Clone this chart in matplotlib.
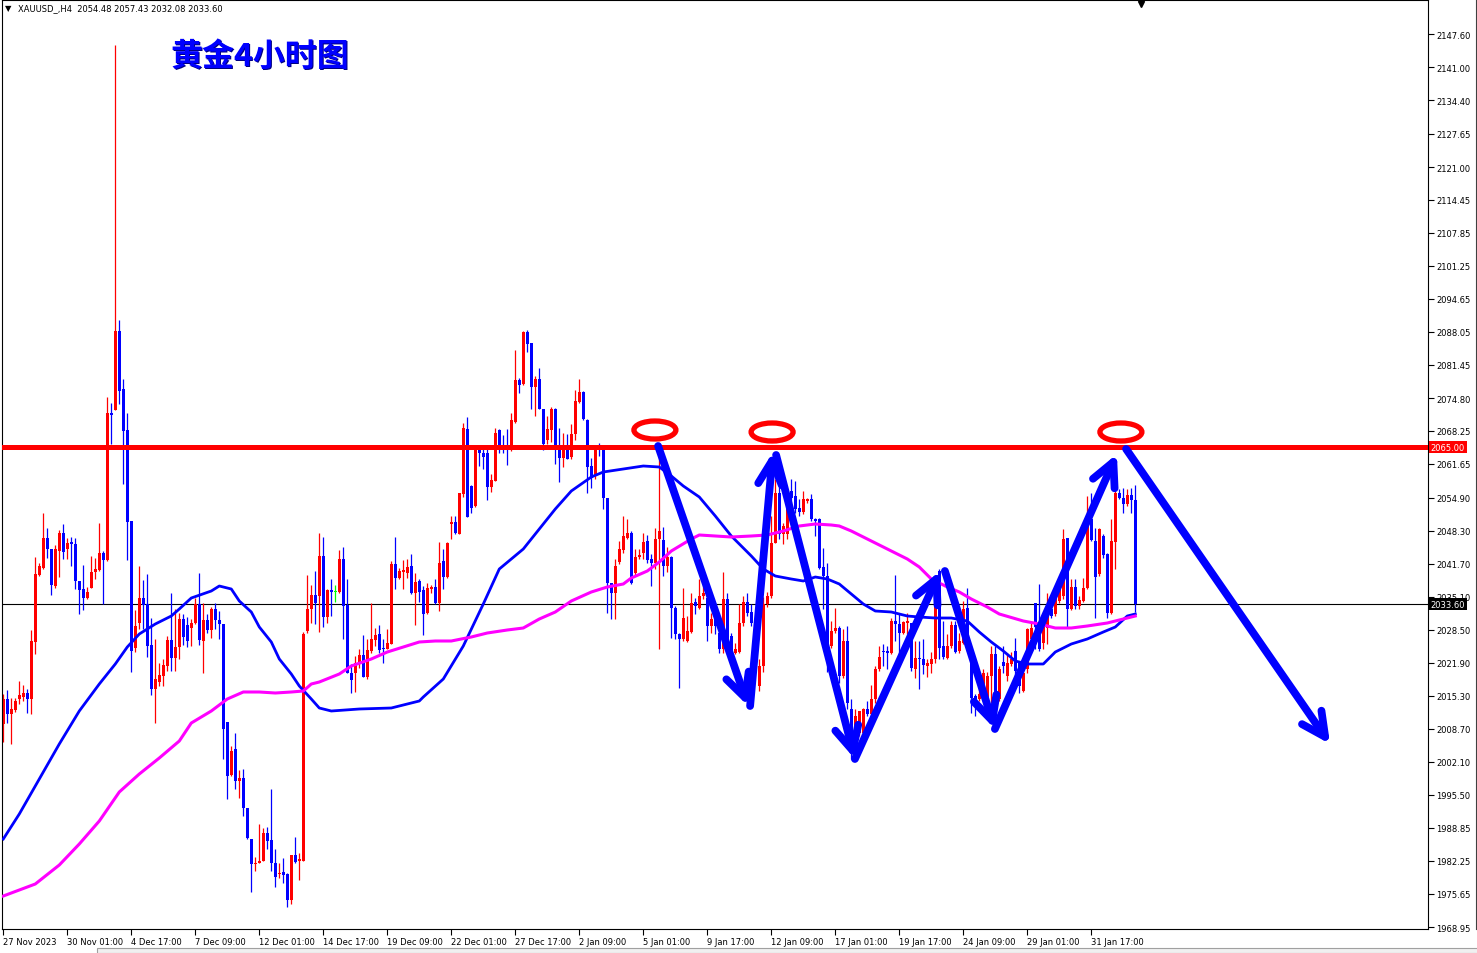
import numpy as np
import matplotlib
matplotlib.use("Agg")
import matplotlib.pyplot as plt
from matplotlib.patches import Ellipse, Rectangle
from matplotlib.lines import Line2D
from matplotlib import transforms

# XAUUSD H4 bars, 27 Nov 2023 -> 2 Feb 2024
opens = [
    2009.6, 2014.6, 2011.6, 2012.5, 2014.6, 2015.1, 2015.9, 2014.6, 2026.1, 2039.4,
    2040.9, 2046.9, 2044.7, 2037.3, 2044.3, 2047.8, 2044.6, 2046.0, 2045.7, 2038.3,
    2036.6, 2034.8, 2036.9, 2040.1, 2040.5, 2043.8, 2042.5, 2071.8, 2072.4, 2088.3,
    2076.6, 2068.4, 2050.3, 2024.9, 2029.9, 2034.8, 2033.7, 2025.4, 2016.7, 2018.1,
    2019.3, 2021.3, 2026.4, 2022.8, 2025.1, 2030.6, 2029.5, 2028.9, 2029.9, 2033.7,
    2026.3, 2030.4, 2028.5, 2032.6, 2030.4, 2029.7, 2010.1, 1999.4, 2004.6, 1998.3,
    1998.9, 1992.9, 1986.7, 1981.6, 1981.9, 1982.3, 1987.9, 1986.4, 1981.9, 1979.6,
    1980.1, 1979.6, 1974.5, 1983.4, 1982.3, 1982.3, 2028.3, 2032.6, 2035.4, 2035.3,
    2043.3, 2031.1, 2036.4, 2036.1, 2036.1, 2042.6, 2033.4, 2019.8, 2019.8, 2021.8,
    2023.4, 2019.1, 2024.3, 2026.5, 2027.6, 2024.9, 2024.7, 2025.6, 2041.6, 2038.9,
    2040.1, 2039.9, 2041.3, 2035.8, 2038.3, 2036.4, 2031.9, 2036.6, 2037.1, 2033.9,
    2042.3, 2039.1, 2049.6, 2050.1, 2047.6, 2055.6, 2068.6, 2057.3, 2053.3, 2064.7,
    2063.9, 2063.9, 2057.1, 2058.3, 2068.4, 2064.9, 2064.9, 2064.7, 2070.1, 2078.4,
    2077.6, 2088.1, 2085.8, 2077.1, 2078.7, 2072.7, 2066.4, 2068.4, 2072.7, 2064.7,
    2062.9, 2064.9, 2063.1, 2067.6, 2074.1, 2076.1, 2070.5, 2061.3, 2059.4, 2065.1,
    2064.4, 2054.9, 2037.9, 2035.9, 2042.1, 2044.5, 2046.9, 2047.9, 2039.9, 2043.1,
    2043.9, 2046.3, 2042.7, 2041.9, 2046.6, 2046.4, 2041.3, 2043.0, 2032.9, 2027.6,
    2026.6, 2026.3, 2028.1, 2034.1, 2032.9, 2035.3, 2034.9, 2029.3, 2030.6, 2027.9,
    2024.6, 2034.7, 2027.3, 2023.9, 2024.1, 2029.8, 2034.1, 2032.1, 2029.8, 2017.3,
    2021.3, 2033.6, 2035.3, 2045.9, 2055.9, 2047.6, 2047.6, 2056.3, 2055.3, 2052.9,
    2052.1, 2054.3, 2054.7, 2050.6, 2050.6, 2041.0, 2039.3, 2025.3, 2028.3, 2028.9,
    2019.3, 2026.3, 2012.6, 2007.3, 2007.9, 2007.9, 2012.7, 2011.6, 2014.6, 2020.6,
    2024.3, 2024.3, 2023.9, 2030.3, 2029.6, 2027.9, 2029.8, 2029.8, 2020.6, 2022.9,
    2022.7, 2021.3, 2021.6, 2022.7, 2040.3, 2025.3, 2022.9, 2025.3, 2029.4, 2024.3,
    2025.9, 2032.9, 2024.6, 2015.3, 2014.6, 2014.9, 2013.9, 2019.3, 2023.6, 2014.6,
    2022.0, 2019.3, 2021.6, 2024.3, 2021.9, 2016.3, 2020.6, 2026.6, 2033.9, 2029.3,
    2025.9, 2028.9, 2032.6, 2031.6, 2034.3, 2035.3, 2046.8, 2032.7, 2037.1, 2033.3,
    2034.3, 2036.9, 2050.6, 2046.3, 2039.6, 2047.3, 2043.6, 2031.9, 2046.1, 2055.9,
    2054.9, 2053.6, 2055.4, 2054.48,
]
highs = [
    2015.6, 2016.5, 2014.9, 2014.9, 2018.3, 2017.4, 2016.7, 2028.4, 2043.1, 2041.9,
    2051.9, 2048.9, 2044.7, 2045.4, 2048.4, 2049.6, 2046.9, 2047.1, 2046.9, 2038.3,
    2041.4, 2037.1, 2043.3, 2042.9, 2049.8, 2044.3, 2075.1, 2073.8, 2145.4, 2090.4,
    2078.7, 2071.8, 2050.3, 2032.4, 2041.3, 2038.4, 2039.6, 2030.9, 2026.7, 2021.9,
    2022.7, 2027.3, 2035.9, 2032.6, 2031.9, 2031.6, 2031.1, 2030.6, 2034.9, 2039.9,
    2033.9, 2031.7, 2033.1, 2033.9, 2032.3, 2029.7, 2010.1, 2005.3, 2007.9, 2000.5,
    2000.7, 1992.9, 1986.7, 1983.1, 1989.7, 1988.9, 1989.1, 1996.7, 1984.7, 1981.8,
    1982.9, 1979.9, 1983.4, 1987.1, 1983.9, 2028.1, 2039.4, 2037.4, 2040.3, 2047.9,
    2047.1, 2036.6, 2038.7, 2037.4, 2044.4, 2045.1, 2038.6, 2021.6, 2023.3, 2024.7,
    2027.4, 2026.6, 2033.8, 2028.9, 2029.4, 2026.6, 2028.6, 2042.3, 2047.1, 2040.9,
    2042.5, 2042.6, 2043.6, 2039.8, 2038.6, 2037.3, 2037.9, 2037.5, 2038.6, 2046.1,
    2044.7, 2046.1, 2051.3, 2051.3, 2055.9, 2069.9, 2071.0, 2057.4, 2064.7, 2065.3,
    2064.6, 2065.3, 2059.6, 2068.9, 2068.7, 2067.4, 2068.6, 2071.9, 2084.4, 2078.9,
    2088.3, 2088.4, 2085.9, 2079.3, 2080.9, 2072.7, 2071.3, 2073.1, 2072.9, 2068.9,
    2067.9, 2067.6, 2069.7, 2076.5, 2078.7, 2076.3, 2070.6, 2062.9, 2064.9, 2065.9,
    2064.6, 2054.9, 2037.9, 2042.6, 2046.3, 2051.3, 2050.7, 2048.3, 2044.6, 2044.6,
    2047.9, 2047.4, 2043.6, 2048.9, 2064.6, 2049.1, 2045.0, 2043.2, 2033.3, 2027.9,
    2036.9, 2031.3, 2035.9, 2034.9, 2038.6, 2038.6, 2035.9, 2031.9, 2033.3, 2029.3,
    2040.1, 2035.9, 2027.9, 2025.9, 2033.6, 2035.3, 2035.9, 2033.6, 2030.4, 2022.6,
    2035.0, 2036.0, 2051.3, 2058.6, 2057.0, 2049.9, 2055.3, 2058.6, 2058.3, 2054.6,
    2056.3, 2054.9, 2055.6, 2050.9, 2050.9, 2044.9, 2041.9, 2030.3, 2032.9, 2029.3,
    2028.6, 2029.3, 2014.6, 2012.6, 2012.3, 2012.9, 2014.3, 2017.4, 2021.3, 2025.3,
    2025.6, 2025.3, 2030.9, 2039.4, 2031.9, 2030.3, 2031.9, 2029.9, 2026.3, 2026.3,
    2026.6, 2022.6, 2024.1, 2035.6, 2040.6, 2030.3, 2027.7, 2030.3, 2030.3, 2027.9,
    2034.3, 2036.9, 2024.9, 2015.6, 2017.3, 2020.6, 2020.0, 2025.3, 2025.3, 2021.3,
    2025.3, 2023.9, 2024.1, 2026.9, 2022.3, 2020.6, 2028.9, 2029.9, 2033.9, 2037.6,
    2029.6, 2035.9, 2034.3, 2035.3, 2037.9, 2048.6, 2046.9, 2038.6, 2038.6, 2035.3,
    2038.9, 2055.3, 2055.9, 2048.9, 2048.9, 2047.6, 2043.9, 2050.7, 2058.3, 2056.6,
    2056.9, 2056.6, 2056.9, 2057.43,
]
lows = [
    2006.0, 2009.9, 2005.6, 2012.1, 2013.6, 2014.3, 2011.9, 2011.6, 2023.6, 2039.3,
    2040.6, 2042.9, 2035.4, 2036.9, 2039.1, 2042.6, 2042.6, 2041.3, 2036.6, 2031.6,
    2032.4, 2034.6, 2036.8, 2038.6, 2040.3, 2033.7, 2042.3, 2065.6, 2072.4, 2073.6,
    2057.6, 2042.5, 2020.1, 2024.1, 2028.6, 2028.6, 2023.1, 2015.4, 2009.8, 2017.3,
    2017.3, 2020.3, 2020.3, 2020.3, 2022.6, 2025.4, 2025.1, 2025.3, 2029.6, 2025.4,
    2019.9, 2027.9, 2026.8, 2028.6, 2026.6, 2002.6, 1994.6, 1999.3, 1996.6, 1994.9,
    1991.3, 1986.7, 1976.1, 1980.3, 1981.9, 1982.3, 1984.6, 1980.3, 1977.1, 1978.9,
    1977.9, 1973.1, 1973.6, 1981.9, 1978.5, 1982.3, 2027.9, 2029.9, 2029.6, 2028.1,
    2029.1, 2029.9, 2031.3, 2034.1, 2035.8, 2026.7, 2019.8, 2015.8, 2016.1, 2020.9,
    2019.1, 2018.6, 2023.9, 2025.3, 2023.8, 2021.8, 2024.6, 2025.6, 2036.7, 2038.6,
    2036.7, 2038.9, 2035.6, 2029.5, 2034.1, 2027.4, 2031.6, 2035.9, 2033.7, 2032.3,
    2036.7, 2038.9, 2046.7, 2047.6, 2047.6, 2055.1, 2051.1, 2051.9, 2053.1, 2061.3,
    2060.6, 2054.5, 2056.1, 2058.3, 2063.8, 2063.9, 2061.4, 2064.3, 2069.9, 2075.8,
    2077.5, 2084.1, 2072.7, 2071.3, 2072.6, 2064.5, 2065.6, 2066.1, 2061.7, 2058.1,
    2061.1, 2062.6, 2062.6, 2066.5, 2073.9, 2070.4, 2055.9, 2056.9, 2058.7, 2063.3,
    2052.7, 2031.9, 2030.7, 2030.6, 2041.6, 2043.9, 2046.6, 2037.6, 2039.3, 2042.6,
    2042.6, 2041.9, 2037.3, 2040.6, 2024.6, 2039.3, 2040.0, 2026.9, 2026.6, 2016.9,
    2026.3, 2026.1, 2027.9, 2031.6, 2032.6, 2034.6, 2026.3, 2027.9, 2027.6, 2023.9,
    2023.9, 2026.3, 2022.6, 2023.6, 2023.9, 2029.3, 2031.3, 2029.3, 2022.6, 2016.3,
    2020.0, 2033.0, 2034.9, 2045.8, 2046.6, 2045.6, 2046.6, 2051.3, 2051.9, 2051.3,
    2051.6, 2053.9, 2050.3, 2047.3, 2040.6, 2032.6, 2020.0, 2024.9, 2027.9, 2017.9,
    2018.9, 2012.6, 2002.6, 2005.9, 2007.3, 2007.6, 2011.3, 2011.3, 2013.9, 2020.3,
    2021.3, 2020.6, 2023.6, 2026.3, 2023.6, 2027.6, 2027.6, 2020.3, 2018.9, 2016.6,
    2019.6, 2019.1, 2019.9, 2021.8, 2022.6, 2022.6, 2022.7, 2024.9, 2023.9, 2023.9,
    2025.6, 2024.3, 2011.9, 2011.3, 2014.3, 2014.6, 2013.5, 2013.9, 2010.9, 2014.3,
    2019.9, 2018.3, 2021.3, 2017.9, 2015.9, 2016.1, 2019.9, 2025.9, 2024.6, 2024.3,
    2024.6, 2025.6, 2030.9, 2031.3, 2033.9, 2034.6, 2028.9, 2032.5, 2032.6, 2032.6,
    2034.1, 2036.6, 2046.3, 2030.9, 2039.3, 2042.9, 2030.9, 2031.6, 2040.6, 2054.7,
    2051.9, 2053.3, 2051.9, 2032.08,
]
closes = [
    2014.6, 2011.6, 2012.6, 2014.3, 2015.4, 2015.9, 2014.7, 2026.3, 2039.6, 2041.3,
    2046.9, 2044.6, 2037.4, 2044.6, 2047.8, 2044.1, 2045.9, 2045.7, 2038.3, 2036.5,
    2034.8, 2036.1, 2040.1, 2040.6, 2043.8, 2042.5, 2071.8, 2071.4, 2088.3, 2076.3,
    2068.3, 2050.1, 2024.3, 2029.3, 2034.8, 2033.4, 2025.3, 2016.7, 2018.6, 2019.4,
    2021.4, 2026.5, 2022.8, 2025.1, 2030.6, 2027.1, 2026.3, 2029.8, 2033.7, 2026.5,
    2030.4, 2028.4, 2032.6, 2030.4, 2029.7, 2008.6, 1999.3, 2004.3, 1998.3, 1998.9,
    1992.9, 1986.9, 1981.6, 1981.9, 1982.3, 1987.9, 1986.3, 1981.9, 1979.1, 1979.9,
    1979.4, 1974.5, 1983.4, 1982.1, 1982.6, 2027.6, 2032.7, 2035.4, 2033.9, 2043.3,
    2031.1, 2036.5, 2036.1, 2036.1, 2042.6, 2033.3, 2019.8, 2018.5, 2021.9, 2023.4,
    2019.1, 2024.5, 2026.6, 2027.4, 2024.5, 2024.6, 2025.8, 2041.7, 2038.9, 2040.3,
    2040.4, 2041.1, 2035.8, 2038.1, 2036.1, 2031.6, 2036.9, 2037.1, 2033.9, 2041.9,
    2039.1, 2045.9, 2050.1, 2047.8, 2055.8, 2068.8, 2051.1, 2052.9, 2064.7, 2063.9,
    2063.1, 2057.1, 2058.4, 2067.9, 2064.6, 2064.5, 2064.5, 2070.4, 2078.4, 2077.5,
    2088.1, 2085.6, 2077.1, 2078.7, 2072.7, 2065.6, 2068.6, 2072.7, 2064.7, 2062.9,
    2065.1, 2062.7, 2067.7, 2074.3, 2076.1, 2070.6, 2061.1, 2058.9, 2064.6, 2064.4,
    2054.9, 2037.9, 2035.9, 2041.3, 2044.6, 2047.3, 2047.9, 2037.9, 2043.1, 2043.4,
    2046.1, 2042.5, 2041.9, 2046.7, 2048.3, 2041.3, 2043.0, 2032.9, 2027.6, 2026.6,
    2030.9, 2028.3, 2033.9, 2033.3, 2035.3, 2035.9, 2029.3, 2030.6, 2029.3, 2024.6,
    2034.7, 2026.6, 2023.9, 2024.7, 2029.8, 2034.1, 2031.9, 2029.8, 2024.6, 2021.3,
    2033.6, 2035.3, 2045.9, 2055.9, 2047.6, 2049.3, 2053.3, 2054.9, 2052.6, 2052.1,
    2054.6, 2054.7, 2050.6, 2050.3, 2040.9, 2039.3, 2023.3, 2028.3, 2028.9, 2019.3,
    2026.3, 2013.9, 2007.3, 2011.3, 2012.3, 2012.7, 2011.6, 2014.6, 2020.6, 2023.1,
    2024.0, 2023.9, 2030.3, 2029.6, 2027.9, 2030.1, 2030.2, 2020.9, 2022.9, 2022.6,
    2021.4, 2021.8, 2022.7, 2034.6, 2024.9, 2023.1, 2025.3, 2029.4, 2024.1, 2026.3,
    2032.7, 2024.6, 2014.9, 2013.6, 2015.6, 2019.9, 2019.3, 2023.6, 2012.9, 2020.7,
    2021.3, 2021.9, 2022.6, 2020.3, 2017.3, 2019.9, 2028.6, 2028.9, 2029.1, 2024.6,
    2029.3, 2031.3, 2031.3, 2034.9, 2036.6, 2046.7, 2032.6, 2037.1, 2033.3, 2034.4,
    2036.9, 2049.9, 2046.4, 2039.1, 2048.6, 2043.4, 2031.8, 2046.3, 2055.8, 2054.9,
    2053.6, 2055.5, 2054.5, 2033.60,
]

date_labels = ["27 Nov 2023", "30 Nov 01:00", "4 Dec 17:00", "7 Dec 09:00", "12 Dec 01:00",
               "14 Dec 17:00", "19 Dec 09:00", "22 Dec 01:00", "27 Dec 17:00", "2 Jan 09:00",
               "5 Jan 01:00", "9 Jan 17:00", "12 Jan 09:00", "17 Jan 01:00", "19 Jan 17:00",
               "24 Jan 09:00", "29 Jan 01:00", "31 Jan 17:00"]
price_ticks = [2147.60, 2141.00, 2134.40, 2127.65, 2121.00, 2114.45, 2107.85, 2101.25,
               2094.65, 2088.05, 2081.45, 2074.80, 2068.25, 2061.65, 2054.90, 2048.30,
               2041.70, 2035.10, 2028.50, 2021.90, 2015.30, 2008.70, 2002.10, 1995.50,
               1988.85, 1982.25, 1975.65, 1968.95]

# the two moving averages, sampled off the chart
ma_blue_bars = [0, 4, 9, 14, 19, 24, 28, 31, 34, 38, 42, 44, 47, 52, 54, 57, 59, 62, 64, 67,
                69, 72, 74, 77, 79, 82, 89, 97, 104, 105, 110, 115, 120, 124, 127, 130, 134,
                138, 142, 147, 150, 155, 160, 164, 167, 170, 174, 178, 182, 187, 190, 193,
                197, 200, 203, 206, 209, 212, 215, 218, 222, 226, 229, 233, 237, 241, 244,
                247, 250, 253, 256, 260, 263, 267, 271, 275, 278, 281, 283]
ma_blue = [1986.6, 1991.6, 1998.6, 2005.6, 2012.2, 2017.6, 2021.6, 2025.0, 2027.6, 2029.6,
           2031.2, 2032.6, 2034.8, 2036.2, 2037.2, 2036.6, 2034.2, 2032.0, 2029.0, 2026.0,
           2022.6, 2019.6, 2017.2, 2014.6, 2012.8, 2012.2, 2012.6, 2012.8, 2014.2, 2015.0,
           2018.6, 2025.2, 2033.6, 2040.6, 2042.6, 2044.6, 2048.6, 2052.6, 2056.2, 2059.0,
           2060.0, 2060.6, 2061.2, 2061.0, 2059.2, 2057.2, 2055.0, 2051.2, 2047.2, 2043.2,
           2040.6, 2039.2, 2038.6, 2038.2, 2039.0, 2038.6, 2037.6, 2035.6, 2033.6, 2032.2,
           2032.0, 2031.2, 2031.0, 2030.8, 2030.8, 2030.2, 2028.0, 2026.0, 2024.2, 2022.2,
           2021.6, 2021.6, 2024.0, 2025.6, 2026.6, 2028.0, 2029.0, 2031.2, 2031.6]
ma_pink_bars = [0, 8, 14, 19, 24, 29, 34, 39, 44, 47, 52, 56, 60, 64, 68, 72, 75, 77, 79, 84,
                87, 92, 96, 100, 104, 108, 112, 117, 121, 126, 130, 134, 138, 142, 147, 151,
                155, 157, 161, 164, 167, 172, 174, 178, 182, 187, 191, 195, 199, 203, 207,
                209, 212, 215, 221, 226, 229, 232, 236, 239, 242, 246, 249, 255, 259, 263,
                267, 271, 276, 280, 283]
ma_pink = [1975.2, 1977.6, 1981.4, 1985.6, 1990.2, 1996.0, 1999.6, 2002.8, 2006.2, 2009.8,
           2012.2, 2014.6, 2016.0, 2016.0, 2015.8, 2016.0, 2016.2, 2017.6, 2018.0, 2019.6,
           2021.2, 2022.6, 2024.0, 2025.0, 2026.0, 2026.2, 2026.2, 2027.0, 2027.8, 2028.4,
           2028.8, 2030.6, 2032.0, 2034.2, 2036.0, 2037.0, 2037.6, 2038.8, 2040.2, 2042.0,
           2044.2, 2046.6, 2047.4, 2047.2, 2047.0, 2047.2, 2047.4, 2048.2, 2049.2, 2049.6,
           2049.4, 2049.2, 2048.2, 2047.0, 2044.6, 2042.6, 2041.0, 2038.6, 2037.0, 2036.0,
           2034.6, 2033.0, 2031.6, 2030.2, 2029.6, 2028.8, 2028.8, 2029.2, 2029.8, 2030.6,
           2031.2]

resistance = 2065.00
last_price = 2033.60

# hand drawn swing arrows (bar index, price): start -> tip
swing_arrows = [((163.7, 2065.2), (186.2, 2013.2)),
                ((186.7, 2013.2), (192.4, 2064.0)),
                ((193.2, 2063.4), (212.9, 2002.6)),
                ((212.9, 2002.6), (234.2, 2040.2)),
                ((235.4, 2040.2), (247.9, 2008.6)),
                ((247.9, 2008.6), (278.4, 2063.6)),
                ((280.7, 2064.6), (331.7, 2005.6))]
# red circles over the three tops (center bar, center price)
top_marks = [(162.9, 2068.4), (192.2, 2068.0), (279.4, 2068.0)]

RED = "#ff0000"
BLUE = "#0000ff"
PINK = "#ff00ff"

W, H = 1477, 954
fig = plt.figure(figsize=(W / 100, H / 100), dpi=100)
ax = fig.add_axes([2 / W, 24 / H, 1426 / W, 929 / H])
ax.set_xlim(-0.325, 356.175)
ax.set_ylim(1968.6, 2154.4)

o = np.array(opens)
h = np.array(highs)
l = np.array(lows)
c = np.array(closes)
idx = np.arange(len(o))
cols = np.where(c > o, RED, np.where(c < o, BLUE, "#00ff00"))

# candles: 1px wick, 3px body
ax.vlines(idx, l, h, colors=cols, lw=0.9, zorder=2)
ax.bar(idx, np.maximum(np.abs(c - o), 0.2), bottom=np.minimum(o, c), width=0.75,
       color=cols, linewidth=0, zorder=2, antialiased=False)

ax.plot(ma_blue_bars, ma_blue, color=BLUE, lw=2.0, zorder=3, solid_joinstyle="round")
ax.plot(ma_pink_bars, ma_pink, color=PINK, lw=2.2, zorder=3, solid_joinstyle="round")

ax.axhline(resistance, color=RED, lw=3.6, zorder=4)
ax.axhline(last_price, color="black", lw=0.8, zorder=1)

for cx, cy in top_marks:
    ax.add_patch(Ellipse((cx, cy), 10.5, 3.6, fill=False, ec=RED, lw=3.8, zorder=5))

for start, tip in swing_arrows:
    ax.annotate("", xy=tip, xytext=start,
                arrowprops=dict(arrowstyle="->,head_length=1.7,head_width=0.85",
                                color=BLUE, lw=5.6, shrinkA=0, shrinkB=0,
                                mutation_scale=10, capstyle="round", joinstyle="round"),
                zorder=6)

# axes look like MT4
for sp in ax.spines.values():
    sp.set_color("black")
    sp.set_linewidth(0.8)
ax.yaxis.tick_right()
ax.set_yticks(price_ticks)
ax.set_yticklabels([f"{p:.2f}" for p in price_ticks])
ax.tick_params(axis="y", length=4, width=0.8, pad=2, labelsize=6)
ax.set_xticks(np.arange(len(date_labels)) * 16)
ax.set_xticklabels(date_labels)
for t in ax.get_xticklabels():
    t.set_ha("left")
ax.tick_params(axis="x", length=4, width=0.8, pad=1.5, labelsize=6)

box = dict(boxstyle="square,pad=0.2", ec="none")
ax.annotate(f"{resistance:.2f}", xy=(1, resistance), xycoords=("axes fraction", "data"),
            xytext=(2, 0), textcoords="offset points", va="center", ha="left", fontsize=6,
            color="white", bbox=dict(box, fc=RED), annotation_clip=False, zorder=10)
ax.annotate(f"{last_price:.2f}", xy=(1, last_price), xycoords=("axes fraction", "data"),
            xytext=(2, 0), textcoords="offset points", va="center", ha="left", fontsize=6,
            color="white", bbox=dict(box, fc="black"), annotation_clip=False, zorder=10)

# chart shift marker at the top
ax.plot([284.4], [2153.6], marker="v", ms=5, color="black", clip_on=False, zorder=10)

# header and title
fig.text(5 / W, 1 - 9 / H, "\u25bc", fontsize=6, va="center", ha="left")
fig.text(18 / W, 1 - 9 / H, "XAUUSD_,H4  2054.48 2057.43 2032.08 2033.60",
         fontsize=6, va="center", ha="left")
shadow = transforms.offset_copy(fig.transFigure, fig=fig, x=1.2, y=-1.2, units="dots")
fig.text(170 / W, 1 - 57 / H, "黄金4小时图", fontsize=23, fontweight="bold", color="#000080",
         family=["Noto Sans CJK SC", "DejaVu Sans"], va="center", ha="left", transform=shadow)
fig.text(170 / W, 1 - 57 / H, "黄金4小时图", fontsize=23, fontweight="bold", color=BLUE,
         family=["Noto Sans CJK SC", "DejaVu Sans"], va="center", ha="left")

# window chrome: right border and tab strip at the bottom
fig.add_artist(Line2D([1475.5 / W] * 2, [24 / H, 1], color="#404040", lw=0.8))
fig.add_artist(Rectangle((97 / W, 0), 1, 5 / H, transform=fig.transFigure,
                         fc="#f0f0f0", ec="#a0a0a0", lw=0.8))

fig.savefig("out.png", dpi=100)
